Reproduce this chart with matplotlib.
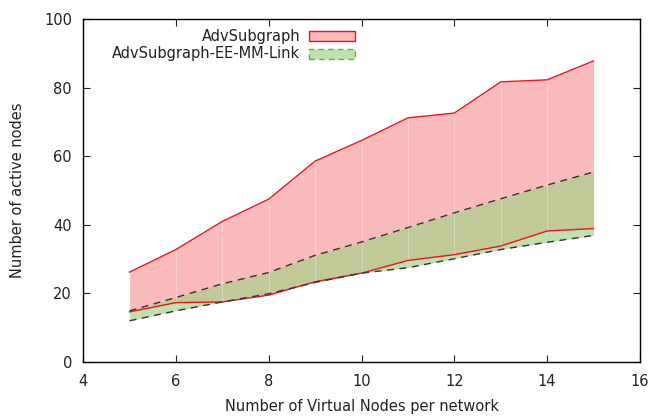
import matplotlib
matplotlib.use('Agg')
import matplotlib.pyplot as plt
from matplotlib.patches import Rectangle

# number of virtual nodes per network
vnodes = [5, 6, 7, 8, 9, 10, 11, 12, 13, 14, 15]

# AdvSubgraph range (upper / lower)
adv_hi = [26.2, 32.8, 41.0, 47.5, 58.6, 64.6, 71.2, 72.6, 81.7, 82.3, 87.8]
adv_lo = [14.6, 17.3, 17.5, 19.5, 23.4, 25.9, 29.6, 31.3, 33.8, 38.2, 38.9]

# AdvSubgraph-EE-MM-Link range (upper / lower)
ee_hi = [14.9, 18.8, 22.8, 26.1, 31.1, 35.0, 39.2, 43.5, 47.6, 51.6, 55.4]
ee_lo = [12.0, 14.9, 17.5, 19.9, 23.2, 25.9, 27.5, 30.1, 32.8, 34.9, 36.9]

fig = plt.figure(figsize=(6.55, 4.16), dpi=100)
ax = fig.add_axes([0.127, 0.130, 0.850, 0.824])

red_fill = '#f8baba'
green_fill = (0.66, 0.82, 0.54, 0.68)
txt = '#222222'

ax.fill_between(vnodes, adv_lo, adv_hi, color=red_fill, lw=0)
ax.fill_between(vnodes, ee_lo, ee_hi, color=green_fill, lw=0)
# faint seams between filled segments, like the original renderer
ax.vlines(vnodes[1:-1], adv_lo[1:-1], adv_hi[1:-1], colors='white', lw=0.8, alpha=0.3)

ax.plot(vnodes, adv_hi, color='#e8161c', lw=1)
ax.plot(vnodes, adv_lo, color='#e8161c', lw=1)
ax.plot(vnodes, ee_hi, color='#333333', lw=1, ls=(0, (5, 4)))
ax.plot(vnodes, ee_lo, color='#333333', lw=1, ls=(0, (5, 4)))

ax.set_xlim(4, 16)
ax.set_ylim(0, 100)
ax.set_xticks(range(4, 17, 2))
ax.set_yticks(range(0, 101, 20))
ax.tick_params(direction='in', length=5, top=True, right=True, labelsize=10.5, colors=txt)
ax.tick_params(axis='x', pad=9)
ax.tick_params(axis='y', pad=8)
for s in ax.spines.values():
    s.set_linewidth(1)
ax.set_xlabel('Number of Virtual Nodes per network', fontsize=10.5, color=txt, labelpad=7)
ax.set_ylabel('Number of active nodes', fontsize=10.5, color=txt, labelpad=14)

# legend gnuplot style: right-justified text, sample box after it
tx = 4.0 + (300 - 83) / 46.4
ax.text(tx, 95.0, 'AdvSubgraph', ha='right', va='center', fontsize=10.5, color=txt)
ax.text(tx, 89.9, 'AdvSubgraph-EE-MM-Link', ha='right', va='center', fontsize=10.5, color=txt)
x0 = 4.0 + (309 - 83) / 46.4
w = 46 / 46.4
ax.add_patch(Rectangle((x0, 93.7), w, 2.8, facecolor=red_fill, edgecolor='#e8161c', lw=1))
ax.add_patch(Rectangle((x0, 88.4), w, 2.8, facecolor='#c3dfb0', edgecolor='#4cc02c', lw=1, ls=(0, (4, 3))))

fig.savefig('out.png')
